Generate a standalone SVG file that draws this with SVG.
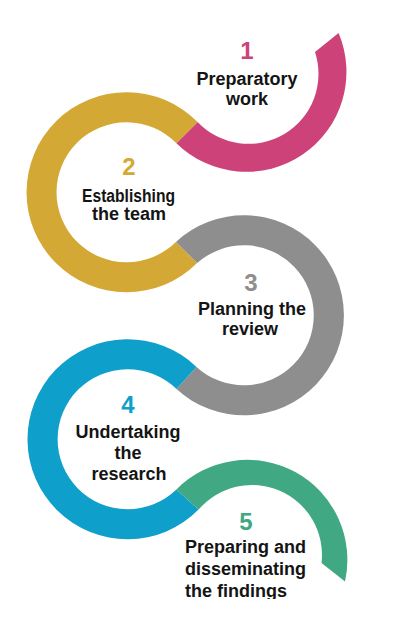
<svg xmlns="http://www.w3.org/2000/svg" width="400" height="634" viewBox="0 0 400 634">
  <style>
    .lbl { font-family: "Liberation Sans", Arial, sans-serif; font-weight: bold; font-size: 18px; fill: #141414; text-anchor: middle; }
    .num { font-family: "Liberation Sans", Arial, sans-serif; font-weight: bold; font-size: 24px; text-anchor: middle; }
    .left { text-anchor: start; }
  </style>
  <defs>
    <clipPath id="pageClip"><rect x="0" y="0" width="400" height="599"/></clipPath>
  </defs>
  <rect x="0" y="0" width="400" height="634" fill="#ffffff"/>
  <g id="connectors"></g>
  <g id="step1">
    <path d="M 338.6 33 A 100 100 0 0 1 176.4 143.2 L 197.6 121.9 A 70 70 0 0 0 315 52 Z" fill="#CE427A"/>
    <text class="num" x="247" y="59" fill="#CE427A">1</text>
    <text class="lbl" x="247" y="85">Preparatory</text>
    <text class="lbl" x="247" y="105">work</text>
  </g>
  <g id="step2">
    <path d="M 197.6 121.9 A 100 100 0 1 0 197.1 263.1 L 175.9 241.9 A 70 70 0 1 1 176.4 143.2 Z" fill="#D4A834"/>
    <text class="num" x="129" y="175" fill="#D4A834">2</text>
    <text class="lbl" x="128.5" y="201.5" textLength="93" lengthAdjust="spacingAndGlyphs">Establishing</text>
    <text class="lbl" x="129" y="220">the team</text>
  </g>
  <g id="step3">
    <path d="M 175.9 241.9 A 100 100 0 1 1 176.5 389.1 L 196.5 366.9 A 70 70 0 1 0 197.1 263.1 Z" fill="#8F8E8E"/>
    <text class="num" x="251" y="290.5" fill="#8F8E8E">3</text>
    <text class="lbl" x="252" y="315">Planning the</text>
    <text class="lbl" x="250" y="335">review</text>
  </g>
  <g id="step4">
    <path d="M 196.5 366.9 A 100 100 0 1 0 198.6 509.6 L 176.4 489.4 A 70 70 0 1 1 176.5 389.1 Z" fill="#0E9FCB"/>
    <text class="num" x="128" y="413" fill="#0E9FCB">4</text>
    <text class="lbl" x="128" y="438">Undertaking</text>
    <text class="lbl" x="128" y="458.5">the</text>
    <text class="lbl" x="129" y="480">research</text>
  </g>
  <g id="step5" clip-path="url(#pageClip)">
    <path d="M 176.4 489.4 A 100 100 0 0 1 345 581.5 L 321.5 563 A 70 70 0 0 0 198.6 509.6 Z" fill="#40A882"/>
    <text class="num" x="246" y="530" fill="#40A882">5</text>
    <text class="lbl left" x="185" y="553">Preparing and</text>
    <text class="lbl left" x="185" y="575">disseminating</text>
    <text class="lbl left" x="185" y="597">the findings</text>
  </g>
</svg>
